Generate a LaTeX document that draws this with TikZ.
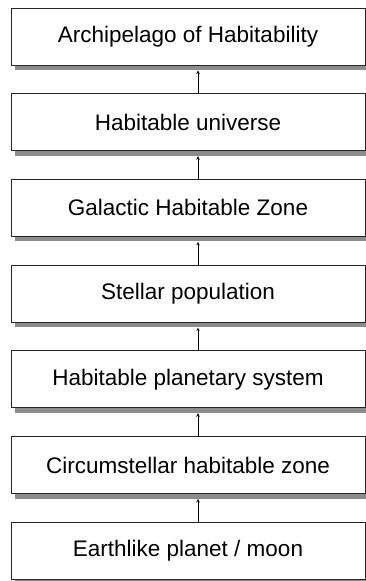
\documentclass[tikz,border=0pt]{standalone}
\usepackage{fontspec}
\setmainfont{Liberation Sans}
\usetikzlibrary{shadows}
\tikzset{
  levelbox/.style={draw=black!85, line width=0.8pt, fill=white, minimum width=354pt,
    minimum height=57pt, inner sep=0pt, font=\fontsize{22.5}{26}\selectfont,
    drop shadow={shadow xshift=4pt, shadow yshift=-5pt, fill=black!45, opacity=1}},
  uparrow/.style={-stealth, line width=0.6pt}
}
\begin{document}
\begin{tikzpicture}[x=1pt, y=1pt]
    \useasboundingbox (0, 0) rectangle (366, -581);

    % Boxes, top to bottom
    \node[levelbox] (archi)   at (188, -36.5)  {Archipelago of Habitability};
    \node[levelbox] (univ)    at (188, -122.2) {Habitable universe};
    \node[levelbox] (ghz)     at (188, -207.9) {Galactic Habitable Zone};
    \node[levelbox] (stellar) at (188, -293.6) {Stellar population};
    \node[levelbox] (hps)     at (188, -379.3) {Habitable planetary system};
    \node[levelbox] (chz)     at (188, -465.0) {Circumstellar habitable zone};
    \node[levelbox] (earth)   at (188, -550.7) {Earthlike planet / moon};

    % Arrows (each level feeds the one above)
    \draw[uparrow] ([xshift=10pt]univ.north)    -- ([xshift=10pt, yshift=-5pt]archi.south);
    \draw[uparrow] ([xshift=10pt]ghz.north)     -- ([xshift=10pt, yshift=-5pt]univ.south);
    \draw[uparrow] ([xshift=10pt]stellar.north) -- ([xshift=10pt, yshift=-5pt]ghz.south);
    \draw[uparrow] ([xshift=10pt]hps.north)     -- ([xshift=10pt, yshift=-5pt]stellar.south);
    \draw[uparrow] ([xshift=10pt]chz.north)     -- ([xshift=10pt, yshift=-5pt]hps.south);
    \draw[uparrow] ([xshift=10pt]earth.north)   -- ([xshift=10pt, yshift=-5pt]chz.south);
  \end{tikzpicture}
\end{document}
